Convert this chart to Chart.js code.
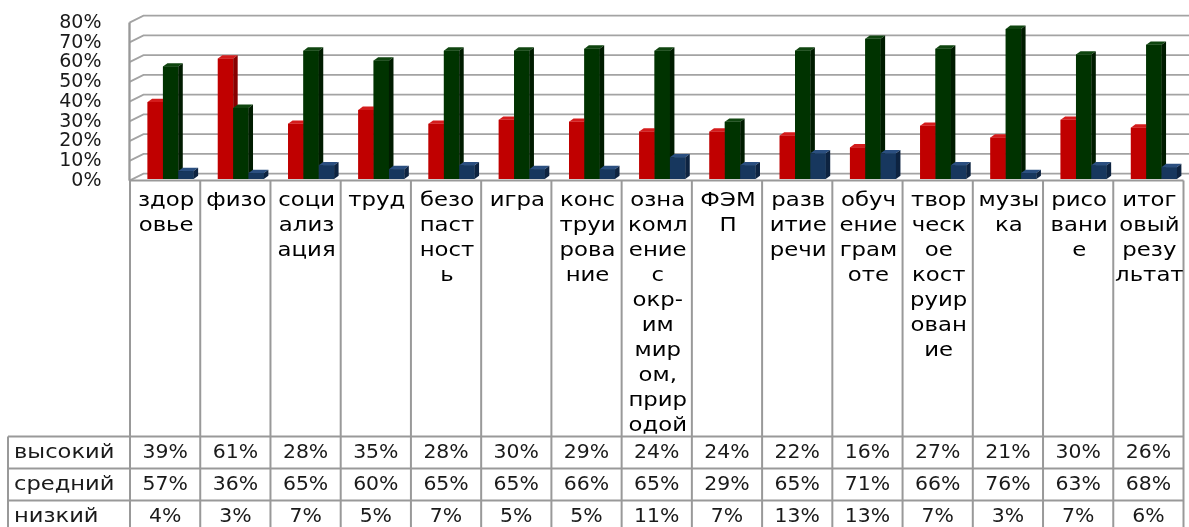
<!DOCTYPE html>
<html>
<head>
<meta charset="utf-8">
<script src="https://cdn.jsdelivr.net/npm/chart.js@4.4.1/dist/chart.umd.min.js"></script>
<style>
html,body{margin:0;padding:0;background:#fff;overflow:hidden}
#wrap{width:1189px;height:527px;position:relative}
</style>
</head>
<body>
<div id="wrap"><canvas id="c"></canvas></div>
<script>
// ---- data ----
const categories = [
  ['здор','овье'],
  ['физо'],
  ['соци','ализ','ация'],
  ['труд'],
  ['безо','паст','ност','ь'],
  ['игра'],
  ['конс','труи','рова','ние'],
  ['озна','комл','ение','с','окр-','им','мир','ом,','прир','одой'],
  ['ФЭМ','П'],
  ['разв','итие','речи'],
  ['обуч','ение','грам','оте'],
  ['твор','ческ','ое','кост','руир','ован','ие'],
  ['музы','ка'],
  ['рисо','вани','е'],
  ['итог','овый','резу','льтат']
];
const seriesNames = ['высокий', 'средний', 'низкий'];
const high = [39, 61, 28, 35, 28, 30, 29, 24, 24, 22, 16, 27, 21, 30, 26];
const mid  = [57, 36, 65, 60, 65, 65, 66, 65, 29, 65, 71, 66, 76, 63, 68];
const low  = [4, 3, 7, 5, 7, 5, 5, 11, 7, 13, 13, 7, 3, 7, 6];
const yTicks = [0, 10, 20, 30, 40, 50, 60, 70, 80];

// ---- styles ----
const frontColors = ['#C00000', '#003300', '#17375E'];
const topColors   = ['#D41C1C', '#0F450F', '#2B4F80'];
const sideColors  = ['#880000', '#001C00', '#0D2340'];
const DX = 4.5, DY = 3.3;        // bar depth
const WDX = 14, WFRONT = 1.6, WBACK = -5.4; // wall depth
const SHIFT = 5.5;               // perspective shift of columns
const FONT = '"DejaVu Sans", Verdana, sans-serif';

function stretchText(ctx, s, x, y, align, sx) {
  ctx.save();
  ctx.translate(x, y);
  ctx.scale(sx, 1);
  ctx.textAlign = align;
  ctx.fillText(s, 0, 0);
  ctx.restore();
}
function line(ctx, x1, y1, x2, y2) {
  ctx.beginPath(); ctx.moveTo(x1, y1); ctx.lineTo(x2, y2); ctx.stroke();
}

const excel3d = {
  id: 'excel3d',
  beforeDatasetsDraw(chart) {
    const ctx = chart.ctx, ys = chart.scales.y, xs = chart.scales.x;
    const cw = xs.getPixelForValue(1) - xs.getPixelForValue(0);
    const wallL = xs.getPixelForValue(0) - cw / 2 - SHIFT - 0.5;
    ctx.save();
    ctx.strokeStyle = '#A3A3A3';
    ctx.lineWidth = 1.8;
    for (const v of yTicks) {
      const p = ys.getPixelForValue(v);
      ctx.beginPath();
      ctx.moveTo(wallL, p + WFRONT);
      ctx.lineTo(wallL + WDX, p + WBACK);
      ctx.lineTo(chart.width, p + WBACK);
      ctx.stroke();
    }
    line(ctx, wallL, ys.getPixelForValue(80) + WFRONT, wallL, ys.getPixelForValue(0) + WFRONT);
    ctx.restore();
  },
  afterDatasetsDraw(chart) {
    const ctx = chart.ctx;
    const metas = [0, 1, 2].map(i => chart.getDatasetMeta(i));
    ctx.save();
    for (let k = 0; k < categories.length; k++) {
      for (let d = 0; d < 3; d++) {
        const el = metas[d].data[k];
        const {x, y, base, width} = el.getProps(['x', 'y', 'base', 'width'], true);
        const l = x - width / 2, r = x + width / 2;
        ctx.fillStyle = frontColors[d];
        ctx.fillRect(l, y, width, base - y);
        ctx.fillStyle = topColors[d];
        ctx.beginPath();
        ctx.moveTo(l, y); ctx.lineTo(l + DX, y - DY); ctx.lineTo(r + DX, y - DY); ctx.lineTo(r, y);
        ctx.closePath(); ctx.fill();
        ctx.fillStyle = sideColors[d];
        ctx.beginPath();
        ctx.moveTo(r, y); ctx.lineTo(r + DX, y - DY); ctx.lineTo(r + DX, base - DY); ctx.lineTo(r, base);
        ctx.closePath(); ctx.fill();
      }
    }
    ctx.restore();
  },
  afterDraw(chart) {
    const ctx = chart.ctx, xs = chart.scales.x, ys = chart.scales.y;
    const n = categories.length;
    const cw = xs.getPixelForValue(1) - xs.getPixelForValue(0);
    const colL = i => xs.getPixelForValue(i) - cw / 2 - SHIFT;
    const x0 = colL(0), xR = colL(n);
    const floorY = ys.getPixelForValue(0) + WFRONT;
    const tableTop = floorY + 256;
    const rowH = 32;
    const tableLeft = 8;
    ctx.save();
    ctx.strokeStyle = '#999999';
    ctx.lineWidth = 2;
    line(ctx, x0 - 1, floorY, xR, floorY);
    for (let i = 0; i <= n; i++) {
      const x = colL(i);
      line(ctx, x, floorY, x, chart.height);
    }
    line(ctx, x0 - 0.5, ys.getPixelForValue(80) + WFRONT, x0 - 0.5, floorY);
    line(ctx, tableLeft, tableTop, tableLeft, chart.height);
    for (let r = 0; r < 3; r++) {
      line(ctx, tableLeft, tableTop + r * rowH, xR, tableTop + r * rowH);
    }
    // category labels
    ctx.fillStyle = '#000';
    ctx.textBaseline = 'middle';
    ctx.font = '20px ' + FONT;
    for (let i = 0; i < n; i++) {
      const cx = (colL(i) + colL(i + 1)) / 2;
      categories[i].forEach((s, j) => stretchText(ctx, s, cx + 1, floorY + 20.5 + j * 25, 'center', 1.14));
    }
    // data table
    const series = [high, mid, low];
    ctx.fillStyle = '#1a1a1a';
    for (let r = 0; r < 3; r++) {
      const cy = tableTop + r * rowH + rowH / 2;
      stretchText(ctx, seriesNames[r], tableLeft + 6, cy, 'left', 1.13);
      for (let i = 0; i < n; i++) {
        const cx = (colL(i) + colL(i + 1)) / 2;
        stretchText(ctx, series[r][i] + '%', cx, cy, 'center', 1.02);
      }
    }
    ctx.restore();
  }
};

new Chart(document.getElementById('c'), {
  type: 'bar',
  data: {
    labels: categories.map(c => c.join('')),
    datasets: [
      {label: seriesNames[0], data: high, backgroundColor: frontColors[0]},
      {label: seriesNames[1], data: mid,  backgroundColor: frontColors[1]},
      {label: seriesNames[2], data: low,  backgroundColor: frontColors[2]}
    ]
  },
  options: {
    responsive: true,
    maintainAspectRatio: false,
    animation: false,
    events: [],
    layout: {padding: {top: 21, bottom: 348, left: 0, right: 0}},
    datasets: {bar: {categoryPercentage: 0.655, barPercentage: 1.0}},
    plugins: {legend: {display: false}, tooltip: {enabled: false}, title: {display: false}},
    scales: {
      x: {display: false, offset: true},
      y: {
        min: 0, max: 80,
        afterFit(scale) { scale.width = 135.5; },
        grid: {display: false, drawTicks: true, tickLength: 34},
        border: {display: false},
        ticks: {
          stepSize: 10, autoSkip: false, padding: 0, labelOffset: 2,
          color: '#1a1a1a',
          font: {family: FONT, size: 19},
          callback: v => v + '%'
        }
      }
    }
  },
  plugins: [excel3d]
});
</script>
</body>
</html>
